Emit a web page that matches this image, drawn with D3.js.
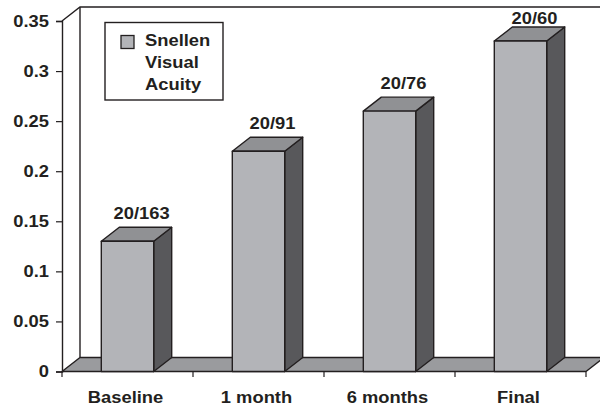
<!DOCTYPE html>
<html>
<head>
<meta charset="utf-8">
<script src="https://cdn.jsdelivr.net/npm/d3@7"></script>
<style>
  html, body { margin: 0; padding: 0; background: #fff; }
  svg text { font-family: "Liberation Sans", Arial, Helvetica, sans-serif; font-weight: bold; fill: #231f20; }
</style>
</head>
<body>
<svg id="chart" width="600" height="410"></svg>
<script>
// Visual acuity over follow-up (decimal), with Snellen equivalents
const categories = ["Baseline", "1 month", "6 months", "Final"];
const acuity = [0.13, 0.22, 0.26, 0.33];
const snellen = ["20/163", "20/91", "20/76", "20/60"];
const yTicks = [0, 0.05, 0.1, 0.15, 0.2, 0.25, 0.3, 0.35];
const seriesName = ["Snellen", "Visual", "Acuity"];

const W = 600, H = 410;
const plotLeft = 62, plotRight = 586, plotTop = 21, plotBottom = 371.5;
const DX = 18, DY = -14;          // oblique depth offset of the 3D look
const ink = "#231f20";
const textScale = 1.08;           // slightly widened lettering
const fontSize = 17;

const colFront = "#b3b4b8", colTop = "#909194", colSide = "#58585b", colFloor = "#9a9b9e";

const svg = d3.select("#chart");

const x = d3.scaleBand().domain(categories).range([plotLeft, plotRight]).paddingInner(0.6).paddingOuter(0.3);
const y = d3.scaleLinear().domain([0, 0.35]).range([plotBottom, plotTop]);

const line = d3.line();

// walls: side wall edges and back wall outline
const g = svg.append("g").attr("fill", "none").attr("stroke", ink).attr("stroke-width", 1.4);
g.append("path").attr("d", line([[plotLeft, y(0.35)], [plotLeft + DX, y(0.35) + DY], [W + 20, y(0.35) + DY]]));
g.append("path").attr("d", line([[plotLeft + DX, y(0.35) + DY], [plotLeft + DX, y(0) + DY]]));

// floor
svg.append("path")
  .attr("d", line([[plotLeft, y(0)], [plotRight, y(0)], [plotRight + DX, y(0) + DY], [plotLeft + DX, y(0) + DY]]) + "Z")
  .attr("fill", colFloor).attr("stroke", ink).attr("stroke-width", 1.4).attr("stroke-linejoin", "round");

// bars
const bars = svg.append("g").selectAll("g").data(categories).join("g")
  .attr("stroke", ink).attr("stroke-width", 1.4).attr("stroke-linejoin", "round");

bars.each(function (c, i) {
  const gB = d3.select(this);
  const x0 = x(c), x1 = x(c) + x.bandwidth();
  const yv = y(acuity[i]), y0 = y(0);
  gB.append("path").attr("fill", colSide)
    .attr("d", line([[x1, y0], [x1, yv], [x1 + DX, yv + DY], [x1 + DX, y0 + DY]]) + "Z");
  gB.append("path").attr("fill", colTop)
    .attr("d", line([[x0, yv], [x1, yv], [x1 + DX, yv + DY], [x0 + DX, yv + DY]]) + "Z");
  gB.append("rect").attr("fill", colFront)
    .attr("x", x0).attr("y", yv).attr("width", x1 - x0).attr("height", y0 - yv);
});

// Snellen labels above bars
svg.append("g").selectAll("text").data(categories).join("text")
  .attr("text-anchor", "middle")
  .attr("font-size", fontSize)
  .attr("transform", (c, i) => {
    const cx = x(c) + x.bandwidth() / 2 + DX * 0.78;
    const by = Math.max(y(acuity[i]) + DY - 8, y(0.35) + DY + 16.5);
    return `translate(${cx},${by}) scale(${textScale},1)`;
  })
  .text((c, i) => snellen[i]);

// y axis
const yAxis = svg.append("g").attr("transform", `translate(${plotLeft},0)`)
  .call(d3.axisLeft(y).tickValues(yTicks).tickFormat(d => String(+d.toFixed(2))).tickSizeOuter(0).tickSize(6).tickPadding(7));
yAxis.select(".domain").attr("stroke", ink).attr("stroke-width", 1.4);
yAxis.selectAll(".tick line").attr("stroke", ink).attr("stroke-width", 1.2);
yAxis.attr("font-family", null).attr("font-size", null);
yAxis.selectAll(".tick text")
  .attr("font-size", fontSize).attr("fill", ink)
  .each(function () {
    const t = d3.select(this);
    const tx = +t.attr("x");
    t.attr("x", 0).attr("transform", `translate(${tx},0) scale(${textScale},1)`);
  });

// x axis: ticks at category boundaries, labels centred under each bar
const boundaries = categories.map(c => x(c) - x.step() * x.paddingOuter()).concat([plotRight]);
svg.append("g").selectAll("line").data(boundaries).join("line")
  .attr("x1", d => d).attr("x2", d => d)
  .attr("y1", y(0)).attr("y2", y(0) + 5.5)
  .attr("stroke", ink).attr("stroke-width", 1.2);

svg.append("g").selectAll("text").data(categories).join("text")
  .attr("text-anchor", "middle")
  .attr("font-size", fontSize)
  .attr("transform", c => `translate(${x(c) + x.bandwidth() / 2 - 2},403) scale(${textScale},1)`)
  .text(c => c);

// legend
const lg = svg.append("g");
lg.append("rect").attr("x", 105).attr("y", 22.5).attr("width", 118).attr("height", 77.5)
  .attr("fill", "#fff").attr("stroke", ink).attr("stroke-width", 1.4);
lg.append("rect").attr("x", 121).attr("y", 35.5).attr("width", 13).attr("height", 13)
  .attr("fill", colFront).attr("stroke", ink).attr("stroke-width", 1.3);
lg.selectAll("text.lbl").data(seriesName).join("text").attr("class", "lbl")
  .attr("font-size", fontSize)
  .attr("transform", (d, i) => `translate(145,${46 + i * 22}) scale(${textScale},1)`)
  .text(d => d);
</script>
</body>
</html>
